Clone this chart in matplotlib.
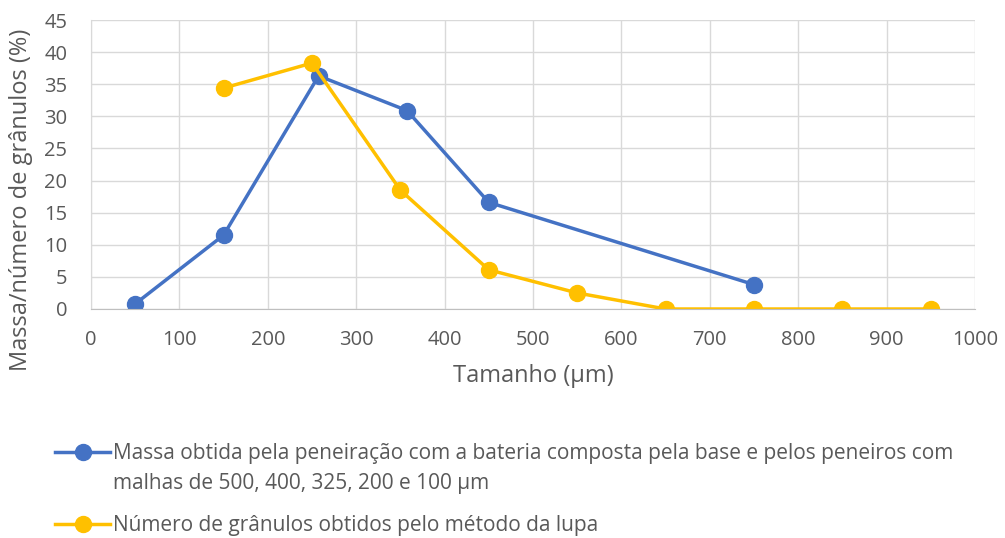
import matplotlib.pyplot as plt

# Dados
tam_massa = [50, 150, 257.5, 357.5, 450, 750]
massa = [0.8, 11.5, 36.3, 30.9, 16.6, 3.8]

tam_lupa = [150, 250, 350, 450, 550, 650, 750, 850, 950]
lupa = [34.4, 38.3, 18.5, 6.1, 2.5, 0, 0, 0, 0]

label_massa = ['Massa obtida pela peneiração com a bateria composta pela base e pelos peneiros com',
               'malhas de 500, 400, 325, 200 e 100 µm']
label_lupa = 'Número de grânulos obtidos pelo método da lupa'

plt.rcParams['font.family'] = ['Open Sans', 'DejaVu Sans']
cinza = '#595959'

fig = plt.figure(figsize=(10.05, 5.38), dpi=100)
ax = fig.add_axes([91 / 1005, 1 - 309 / 538, 884 / 1005, 289 / 538])

l1, = ax.plot(tam_massa, massa, color='#4472C4', lw=2.5, marker='o', ms=11.5)
l2, = ax.plot(tam_lupa, lupa, color='#FFC000', lw=2.5, marker='o', ms=11.5)

ax.set_xlim(0, 1000)
ax.set_ylim(0, 45)
ax.set_xticks(range(0, 1001, 100))
ax.set_yticks(range(0, 46, 5))
ax.grid(True, color='#D9D9D9', lw=1)
ax.set_axisbelow(True)
for s in ['top', 'right']:
    ax.spines[s].set_visible(False)
ax.spines['left'].set_color('#D9D9D9')
ax.spines['bottom'].set_color('#BFBFBF')
ax.tick_params(length=0, labelsize=14.5, colors=cinza)
ax.tick_params(axis='x', pad=15)
ax.tick_params(axis='y', pad=17)

ax.set_xlabel('Tamanho (µm)', fontsize=17, color=cinza)
ax.set_ylabel('Massa/número de grânulos (%)', fontsize=17, color=cinza)
ax.xaxis.set_label_coords(0.5, (309 - 364) / 289)
ax.yaxis.set_label_coords((33 - 91) / 884, (309 - 199.5) / 289)

leg = fig.legend(handles=[l1, l2], labels=[label_massa[0], label_lupa],
                 loc='upper left', bbox_to_anchor=(55 / 1005, 1 - 443 / 538),
                 frameon=False, fontsize=15, labelcolor=cinza, handlelength=2.65,
                 handletextpad=0.15, labelspacing=2.44, borderpad=0, borderaxespad=0)

# segunda linha da primeira entrada da legenda
fig.canvas.draw()
bb = leg.get_texts()[0].get_window_extent()
fig.text(bb.x0 / fig.bbox.width, (bb.y0 - 30) / fig.bbox.height, label_massa[1],
         fontsize=15, color=cinza, ha='left', va='bottom')

plt.savefig('out.png')
